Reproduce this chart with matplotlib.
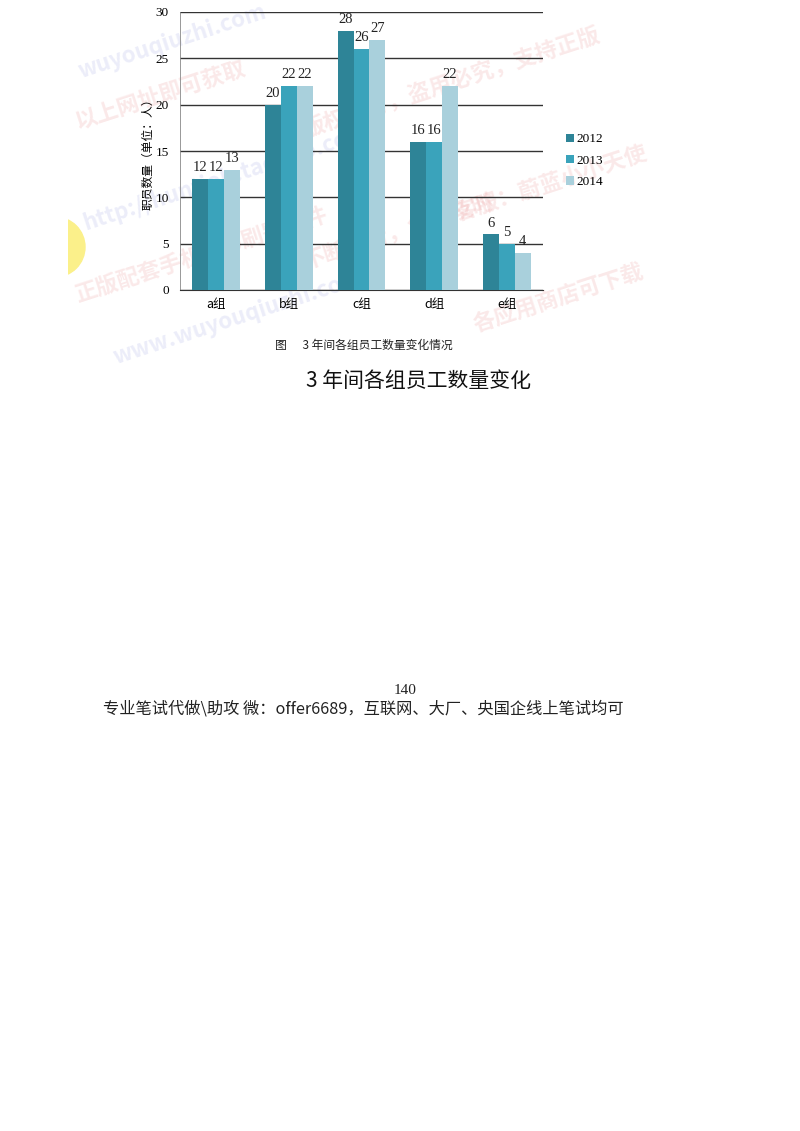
import numpy as np
import matplotlib.pyplot as plt
from matplotlib.patches import Circle

plt.rcParams['font.family'] = ['Noto Sans CJK SC', 'DejaVu Sans']

groups = ['a组', 'b组', 'c组', 'd组', 'e组']
years = ['2012', '2013', '2014']
v2012 = [12, 20, 28, 16, 6]
v2013 = [12, 22, 26, 16, 5]
v2014 = [13, 22, 27, 22, 4]
yticks = [0, 5, 10, 15, 20, 25, 30]

# faint watermark texts over the pasted picture: (text, x, y, colour)
marks = [
    ('wuyouqiuzhi.com', 75, 42, 'b'),
    ('以上网址即可获取', 72, 95, 'r'),
    ('http://huntjob.taobao.com', 80, 178, 'b'),
    ('正版配套手机app刷题软件', 72, 255, 'r'),
    ('www.wuyouqiuzhi.com', 110, 318, 'b'),
    ('版权所有，盗用必究，支持正版', 300, 82, 'r'),
    ('唯一客服：蔚蓝小小天使', 410, 190, 'r'),
    ('不断更新，免费及时', 300, 232, 'r'),
    ('各应用商店可下载', 470, 298, 'r'),
]

colors = ['#2e8497', '#3aa3bb', '#a9d0dc']
serif = ['Liberation Serif', 'Noto Sans CJK SC']

W, H = 800, 1131
fig = plt.figure(figsize=(W / 100, H / 100), dpi=100)

# background area of the pasted picture (pixel coords)
bg = fig.add_axes([68 / W, 1 - 365 / H, (675 - 68) / W, 365 / H])
bg.set_xlim(68, 675)
bg.set_ylim(365, 0)
bg.axis('off')
bg.add_patch(Circle((55, 247), 30, color='#fbf08a', zorder=0))
for t, mx, my, c in marks:
    bg.text(mx, my, t, rotation=18, fontsize=16, fontweight='bold',
            color='#e36a6a' if c == 'r' else '#7f86d8', alpha=0.15,
            ha='left', va='center', zorder=1)

ax = fig.add_axes([180 / W, 1 - 290 / H, 363 / W, 278 / H])
x = np.arange(len(groups))
w = 0.22
series = [v2012, v2013, v2014]
for i, vals in enumerate(series):
    pos = x + (i - 1) * w
    ax.bar(pos, vals, w, color=colors[i], label=years[i], zorder=3)
    for p, v in zip(pos, vals):
        ax.text(p, v + 0.5, str(v), ha='center', va='bottom',
                fontsize=10.5, family=serif, color='#222222', zorder=4)

ax.set_xlim(-0.5, 4.5)
ax.set_ylim(0, 30)
ax.set_yticks(yticks)
ax.set_yticklabels([str(t) for t in yticks], family=serif, fontsize=9.5)
ax.set_xticks(x)
ax.set_xticklabels(groups, fontsize=9)
ax.tick_params(length=0, pad=8)
ax.tick_params(axis='x', pad=6)
ax.grid(axis='y', color='#333333', lw=1, zorder=0)
for s in ['top', 'right']:
    ax.spines[s].set_visible(False)
ax.spines['left'].set_color('#888888')
ax.spines['left'].set_linewidth(0.6)
ax.spines['bottom'].set_color('#333333')
ax.set_facecolor('none')
ax.set_ylabel('职员数量（单位：人）', fontsize=8.5, labelpad=1)

ax.legend(loc='center left', bbox_to_anchor=(1.03, 0.465), frameon=False,
          prop={'family': serif, 'size': 9.5}, handlelength=0.6,
          handleheight=0.6, handletextpad=0.2, labelspacing=0.7)

fig.text(364 / W, 1 - 345 / H, '图      3 年间各组员工数量变化情况',
         ha='center', va='center', fontsize=8.5, color='#222222')
fig.text(418 / W, 1 - 381 / H, '3 年间各组员工数量变化',
         ha='center', va='center', fontsize=15, fontweight='medium',
         color='#111111')
fig.text(405 / W, 1 - 691 / H, '140', ha='center', va='center',
         fontsize=11, family=serif, color='#222222')
fig.text(103 / W, 1 - 709 / H,
         '专业笔试代做\\助攻 微：offer6689，互联网、大厂、央国企线上笔试均可',
         ha='left', va='center', fontsize=11.7, color='#222222')

fig.savefig('out.png', dpi=100)
